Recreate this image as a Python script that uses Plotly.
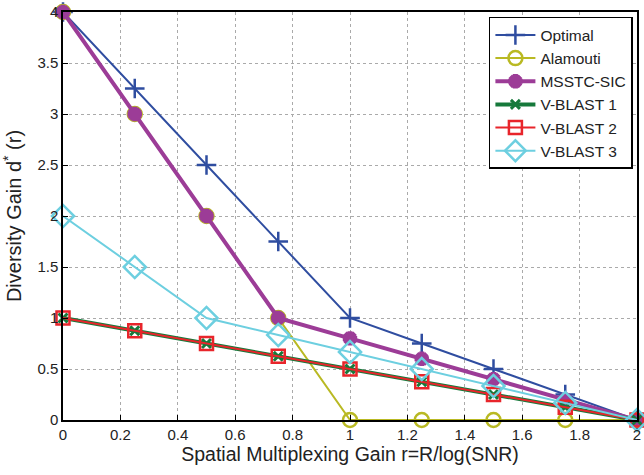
import plotly.graph_objects as go

r = [0, 0.25, 0.5, 0.75, 1, 1.25, 1.5, 1.75, 2]
optimal = [4, 3.25, 2.5, 1.75, 1, 0.75, 0.5, 0.25, 0]
alamouti = [4, 3, 2, 1, 0, 0, 0, 0, 0]
msstc = [4, 3, 2, 1, 0.8, 0.6, 0.4, 0.2, 0]
vblast1 = [1, 0.875, 0.75, 0.625, 0.5, 0.375, 0.25, 0.125, 0]
vblast2 = [1, 0.875, 0.75, 0.625, 0.5, 0.375, 0.25, 0.125, 0]
vblast3 = [2, 1.5, 1, 0.8333, 0.6667, 0.5, 0.3333, 0.1667, 0]

x_ticks = [0, 0.2, 0.4, 0.6, 0.8, 1, 1.2, 1.4, 1.6, 1.8, 2]
y_ticks = [0, 0.5, 1, 1.5, 2, 2.5, 3, 3.5, 4]

series = [
    ("Optimal", optimal, "#2f4da0", 2, dict(symbol="cross-thin-open", size=14, line=dict(width=2.5, color="#2f4da0"))),
    ("Alamouti", alamouti, "#b9b923", 2, dict(symbol="circle-open", size=14, line=dict(width=2.5, color="#b9b923"))),
    ("MSSTC-SIC", msstc, "#9c3c97", 4, dict(symbol="asterisk-open", size=12, line=dict(width=5, color="#9c3c97"))),
    ("V-BLAST 1", vblast1, "#16793b", 4, dict(symbol="x-thin-open", size=9, line=dict(width=3, color="#16793b"))),
    ("V-BLAST 2", vblast2, "#e8252b", 2, dict(symbol="square-open", size=13, line=dict(width=2.5, color="#e8252b"))),
    ("V-BLAST 3", vblast3, "#6dcfe0", 2, dict(symbol="diamond-open", size=17, line=dict(width=2.5, color="#6dcfe0"))),
]

fig = go.Figure()
for name, ys, color, lw, marker in series:
    fig.add_trace(go.Scatter(x=r, y=ys, name=name, mode="lines+markers", cliponaxis=False,
                             line=dict(color=color, width=lw), marker=marker))

axis_common = dict(showline=True, linecolor="black", linewidth=1.5, mirror=True,
                   ticks="inside", ticklen=5, tickcolor="black",
                   showgrid=True, gridcolor="#aaaaaa", griddash="dot", gridwidth=1,
                   zeroline=False, tickfont=dict(size=15, color="#222"))

fig.update_layout(
    width=644, height=475,
    margin=dict(l=63, r=3, t=10, b=55),
    paper_bgcolor="white", plot_bgcolor="white",
    font=dict(family="Liberation Sans, Arial, sans-serif", color="#222"),
    xaxis=dict(range=[0, 2], tickvals=x_ticks,
               title=dict(text="Spatial Multiplexing Gain r=R/log(SNR)", font=dict(size=19.5), standoff=6),
               **axis_common),
    yaxis=dict(range=[0, 4], tickvals=y_ticks,
               title=dict(text="Diversity Gain d<sup>*</sup> (r)", font=dict(size=20), standoff=10),
               **axis_common),
    legend=dict(x=0.742, y=0.988, xanchor="left", yanchor="top",
                bordercolor="black", borderwidth=1.5, bgcolor="white",
                font=dict(size=15.5, color="#222"), tracegroupgap=0, itemwidth=40),
    showlegend=True,
)

fig.write_html("out.html")
